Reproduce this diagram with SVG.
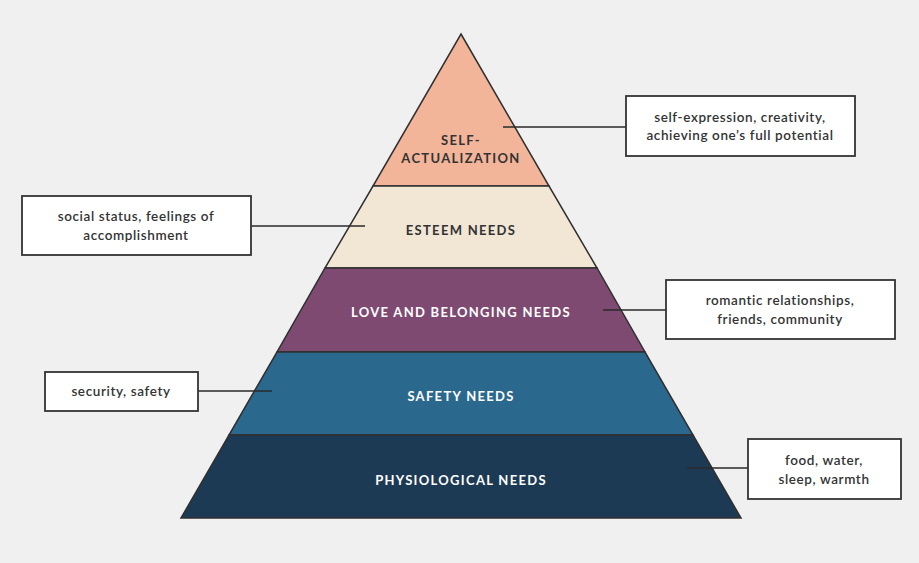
<svg xmlns="http://www.w3.org/2000/svg" width="919" height="563" viewBox="0 0 919 563">
<style>
.bg{fill:#f0f0f0}
.lvl{stroke:#2f2f2f;stroke-width:1.5;stroke-linejoin:miter}
.lbl{font-family:"Lato","Liberation Sans",sans-serif;font-weight:700;font-size:13px;letter-spacing:1.3px;text-anchor:middle}
.box{fill:#ffffff;stroke:#333;stroke-width:1.8}
.bt{font-family:"Lato","Liberation Sans",sans-serif;font-weight:600;font-size:13.5px;fill:#333;text-anchor:middle;letter-spacing:0.6px}
.con{stroke:#2a2a2a;stroke-width:1.3;fill:none}
</style>
<rect class="bg" x="0" y="0" width="919" height="563"/>
<g id="self-actualization">
<polygon class="lvl" fill="#f3b59a" points="461,34 549,186 373,186"/>
<text class="lbl" fill="#333" x="461" y="145">SELF-</text>
<text class="lbl" fill="#333" x="461" y="163">ACTUALIZATION</text>
</g>
<g id="esteem">
<polygon class="lvl" fill="#f2e6d5" points="373,186 549,186 597,268 325,268"/>
<text class="lbl" fill="#333" x="461" y="235">ESTEEM NEEDS</text>
</g>
<g id="love">
<polygon class="lvl" fill="#7e4a72" points="325,268 597,268 645,352 277,352"/>
<text class="lbl" fill="#ffffff" x="461" y="317">LOVE AND BELONGING NEEDS</text>
</g>
<g id="safety">
<polygon class="lvl" fill="#2a688e" points="277,352 645,352 693,435 229,435"/>
<text class="lbl" fill="#ffffff" x="461" y="401">SAFETY NEEDS</text>
</g>
<g id="physiological">
<polygon class="lvl" fill="#1d3a55" points="229,435 693,435 741,518 181,518"/>
<text class="lbl" fill="#ffffff" x="461" y="485">PHYSIOLOGICAL NEEDS</text>
</g>
<g id="connectors">
<line class="con" x1="503" y1="127" x2="626" y2="127"/>
<line class="con" x1="251" y1="226" x2="365" y2="226"/>
<line class="con" x1="603" y1="310" x2="666" y2="310"/>
<line class="con" x1="198" y1="391" x2="272" y2="391"/>
<line class="con" x1="687" y1="468" x2="748" y2="468"/>
</g>
<g id="note-self">
<rect class="box" x="626" y="96" width="229" height="60"/>
<text class="bt" x="740" y="122">self-expression, creativity,</text>
<text class="bt" x="740" y="140">achieving one’s full potential</text>
</g>
<g id="note-esteem">
<rect class="box" x="22" y="196" width="229" height="59"/>
<text class="bt" x="136" y="221">social status, feelings of</text>
<text class="bt" x="136" y="240">accomplishment</text>
</g>
<g id="note-love">
<rect class="box" x="666" y="280" width="229" height="59"/>
<text class="bt" x="780" y="305">romantic relationships,</text>
<text class="bt" x="780" y="324">friends, community</text>
</g>
<g id="note-safety">
<rect class="box" x="45" y="372" width="153" height="39"/>
<text class="bt" x="121" y="396">security, safety</text>
</g>
<g id="note-physio">
<rect class="box" x="748" y="439" width="153" height="60"/>
<text class="bt" x="824" y="465">food, water,</text>
<text class="bt" x="824" y="484">sleep, warmth</text>
</g>
</svg>
